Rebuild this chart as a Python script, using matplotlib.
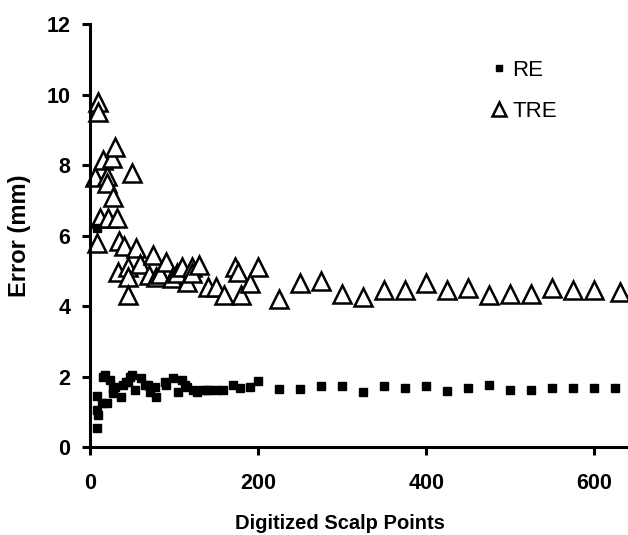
import matplotlib.pyplot as plt

plt.rcParams['font.family'] = ['Liberation Sans', 'DejaVu Sans']

# RE (filled squares)
re_x = [8, 8, 8, 10, 8, 14, 16, 18, 20, 24, 27, 30, 27, 37, 39, 43, 45, 48, 50, 53,
        61, 65, 69, 71, 77, 79, 89, 91, 99, 105, 110, 113, 115, 122, 127, 133, 139,
        142, 150, 158, 170, 178, 190, 200,
        225, 250, 275, 300, 325, 350, 375, 400, 425, 450, 475, 500, 525, 550, 575,
        600, 625]
re_y = [0.54, 1.05, 1.45, 0.9, 6.2, 1.25, 2.0, 2.04, 1.24, 1.9, 1.66, 1.71, 1.53, 1.43,
        1.76, 1.85, 1.85, 2.0, 2.04, 1.62, 1.96, 1.76, 1.76, 1.57, 1.71, 1.43, 1.85,
        1.76, 1.96, 1.57, 1.9, 1.76, 1.71, 1.62, 1.57, 1.62, 1.62, 1.62, 1.62, 1.62,
        1.76, 1.66, 1.71, 1.87,
        1.65, 1.65, 1.72, 1.72, 1.55, 1.72, 1.68, 1.72, 1.6, 1.68, 1.75, 1.62, 1.62,
        1.68, 1.68, 1.68, 1.68]

# TRE (open triangles)
tre_x = [6, 9, 9, 8, 12, 15, 20, 20, 21, 26, 30, 27, 32, 35, 41, 50, 55, 33, 45, 45,
         45, 60, 70, 75, 79, 83, 90, 97, 103, 110, 115, 121, 121, 130, 140, 150, 160,
         172, 176, 180, 190, 200,
         225, 250, 275, 300, 325, 350, 375, 400, 425, 450, 475, 500, 525, 550, 575,
         600, 630]
tre_y = [7.67, 9.8, 9.5, 5.78, 6.5, 8.15, 7.7, 7.5, 6.5, 8.2, 8.5, 7.1, 6.5, 5.85, 5.7,
         7.77, 5.65, 4.97, 5.1, 4.82, 4.31, 5.2, 4.88, 5.45, 4.83, 4.9, 5.25, 4.8, 4.95,
         5.1, 4.69, 5.11, 4.93, 5.16, 4.55, 4.55, 4.3, 5.11, 4.97, 4.31, 4.65, 5.1,
         4.2, 4.65, 4.7, 4.35, 4.25, 4.45, 4.45, 4.65, 4.45, 4.5, 4.3, 4.35, 4.35,
         4.5, 4.45, 4.45, 4.4]

fig = plt.figure(figsize=(6.28, 5.35), dpi=100)
ax = fig.add_axes([0.1433, 0.1645, 0.8567, 0.7905])

ax.plot(re_x, re_y, linestyle='none', marker='s', markersize=5.5, color='black',
        label='RE', clip_on=False, zorder=3)
ax.plot(tre_x, tre_y, linestyle='none', marker='^', markersize=13,
        markerfacecolor='white', markeredgecolor='black', markeredgewidth=1.8,
        label='TRE', clip_on=False, zorder=2)

ax.set_xlim(0, 640)
ax.set_ylim(0, 12)
ax.set_xticks([0, 200, 400, 600])
ax.set_yticks([0, 2, 4, 6, 8, 10, 12])

for side in ['top', 'right']:
    ax.spines[side].set_visible(False)
for side in ['left', 'bottom']:
    ax.spines[side].set_linewidth(2.2)

ax.tick_params(axis='both', direction='out', length=6, width=2.2,
               labelsize=15.5, pad=8)
ax.tick_params(axis='x', pad=13)
for lab in ax.get_xticklabels() + ax.get_yticklabels():
    lab.set_fontweight('bold')

ax.set_xlabel('Digitized Scalp Points', fontsize=14.5, fontweight='bold')
ax.xaxis.set_label_coords(0.465, -0.158)
ax.set_ylabel('Error (mm)', fontsize=17, fontweight='bold')
ax.yaxis.set_label_coords(-0.11, 0.5)

ax.legend(loc='upper right', bbox_to_anchor=(0.905, 0.963), frameon=False,
          fontsize=16, markerscale=0.8, handlelength=0.6, handletextpad=0.3,
          labelspacing=0.9)

fig.savefig('out.png', dpi=100)
